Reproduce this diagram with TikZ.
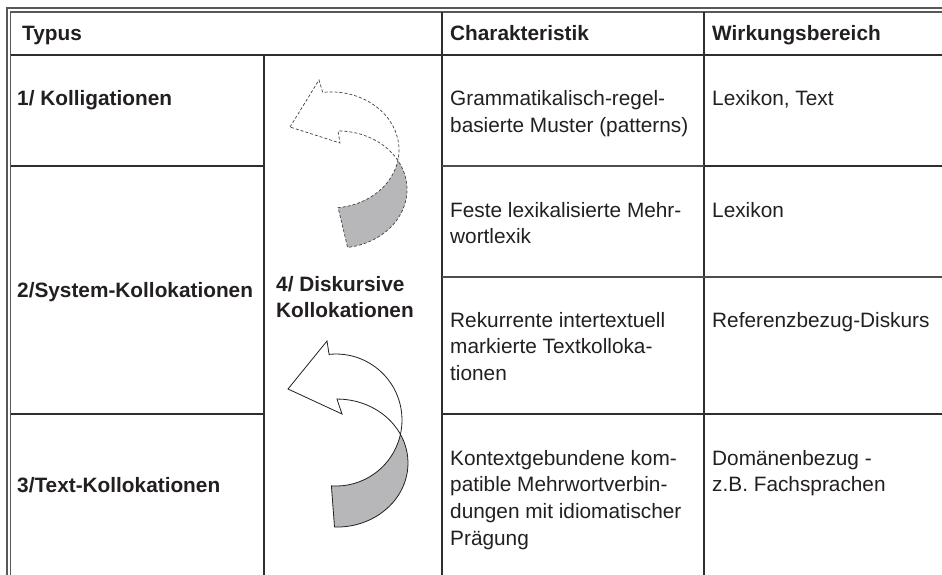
\documentclass[tikz,border=0pt]{standalone}
\usepackage{fontspec}
\setmainfont{Liberation Sans}
\definecolor{ink}{HTML}{231F20}
\definecolor{rule}{HTML}{2E2E2E}
\definecolor{tailgray}{HTML}{B7B7B9}
\newcommand{\celltext}[1]{\begin{tabular}[t]{@{}l@{}}#1\end{tabular}}

\begin{document}
\begin{tikzpicture}[x=1pt,y=-1pt,
  every node/.style={inner sep=0pt,anchor=base west,text=ink,
    font=\fontsize{20.8}{26.7}\selectfont},
  headtxt/.style={font=\fontsize{20.8}{26.7}\selectfont\bfseries},
  frame/.style={draw=rule!80,line width=1.1pt},
  rulethick/.style={draw=rule,line width=1.7pt},
  rulethin/.style={draw=rule!85,line width=1.2pt},
  arrowline/.style={draw=ink,line width=0.8pt},
  dashline/.style={draw=ink!85,line width=0.7pt,dash pattern=on 3pt off 2pt}]

	\useasboundingbox (0,0) rectangle (942,575);

	% double frame, open right and bottom
	\draw[frame] (942,8) -- (7,8) -- (7,575);
	\draw[frame] (942,12) -- (10.5,12) -- (10.5,575);

	\draw[rulethick] (10.5,55) -- (942,55)
		(264,55) -- (264,575)
		(442,12) -- (442,575)
		(704,12) -- (704,575)
		(10.5,166) -- (264,166)
		(10.5,414) -- (264,414)
		(704,166) -- (942,166)
		(442,414) -- (942,414);
	\draw[rulethin] (442,166) -- (704,166)
		(442,277) -- (942,277);

	\path (22,41) node[headtxt] (typus) {Typus}
		(450,41) node[headtxt] (charak) {Charakteristik}
		(712,41) node[headtxt] (wirkung) {Wirkungsbereich}
		(17,106) node[headtxt] (koll) {1/ Kolligationen}
		(17,297) node[headtxt] (system) {2/System-Kollokationen}
		(17,492) node[headtxt] (text) {3/Text-Kollokationen}
		(276,291) node[headtxt] (diskurs) {\celltext{4/ Diskursive\\Kollokationen}};

	\path (450,106) node (gramm) {\celltext{Grammatikalisch-regel-\\basierte Muster (patterns)}}
		(712,106) node (lextext) {Lexikon, Text}
		(450,217) node (fest) {\celltext{Feste lexikalisierte Mehr-\\wortlexik}}
		(712,217) node (lexikon) {Lexikon}
		(450,327) node (rekurr) {\celltext{Rekurrente intertextuell\\markierte Textkolloka-\\tionen}}
		(712,327) node (referenz) {Referenzbezug-Diskurs}
		(450,465) node (kontext) {\celltext{Kontextgebundene kom-\\patible Mehrwortverbin-\\dungen mit idiomatischer\\Prägung}}
		(712,465) node (domaene) {\celltext{Domänenbezug -\\z.B. Fachsprachen}};

	% upper curved arrow, dashed
	\fill[tailgray] (331,150) ++(8:68 and 58) arc[start angle=8,end angle=84,x radius=68,y radius=58]
		-- (347.6,247.4) arc[start angle=82,end angle=-32,x radius=69,y radius=58.5] -- cycle;
	\draw[dashline] (290,127) -- (319,80) -- (322.7,92.4)
		arc[start angle=-97,end angle=84,x radius=68,y radius=58]
		-- (347.6,247.4) arc[start angle=82,end angle=-90,x radius=69,y radius=58.5]
		-- (340,143) -- cycle;

	% lower curved arrow, solid
	\fill[tailgray] (336,420) ++(14:66) arc[start angle=14,end angle=94,radius=66]
		-- (334.5,527) arc[start angle=92,end angle=-24,x radius=71,y radius=64] -- cycle;
	\draw[arrowline] (288,389) -- (327,341) -- (329.1,354.4)
		arc[start angle=-96,end angle=94,radius=66]
		-- (334.5,527) arc[start angle=92,end angle=-90,x radius=71,y radius=64]
		-- (342,414) -- cycle;
\end{tikzpicture}
\end{document}
